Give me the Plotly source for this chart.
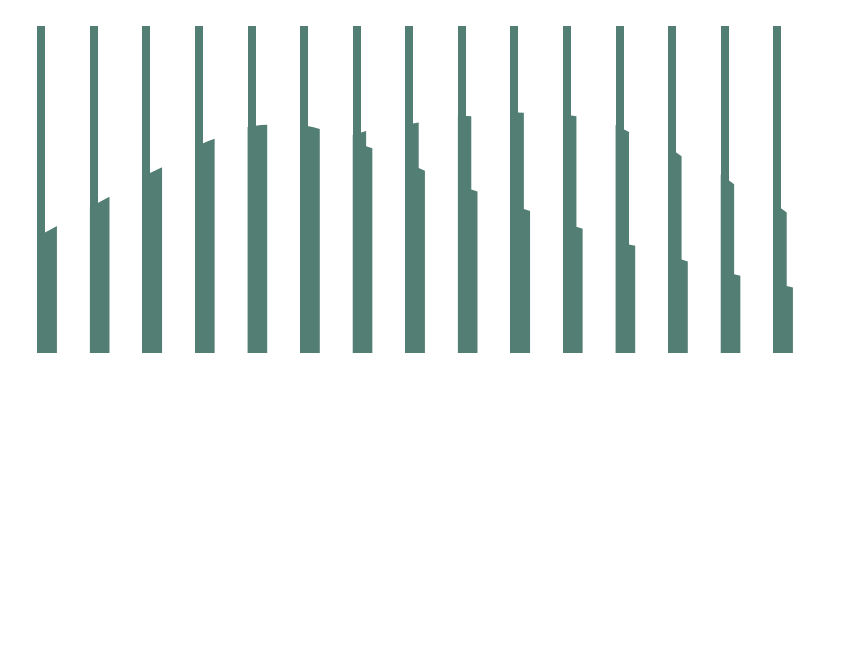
import plotly.graph_objects as go

# one group per category, 15 in all
groups = list(range(15))

# full-height strip on the left of every group
strip_values = [100] * 15

# area tops: left edge, end of first step, after the drop, right edge
top_left = [35.6, 44.6, 54.0, 63.1, 69.1, 69.9, 66.7, 69.8, 72.6, 73.6, 73.0, 69.7, 63.1, 54.6, 46.0]
step_end = [37.8, 46.8, 55.9, 64.8, 69.7, 69.0, 67.9, 70.5, 72.4, 73.5, 72.4, 67.6, 60.2, 51.6, 43.0]
step_drop = [37.8, 46.8, 55.9, 64.8, 69.7, 69.0, 63.2, 56.6, 50.0, 44.0, 38.6, 33.2, 28.6, 24.1, 20.5]
top_right = [38.8, 47.8, 56.8, 65.5, 69.8, 68.5, 62.6, 55.7, 49.4, 43.4, 38.0, 32.8, 28.0, 23.6, 20.0]

color = '#527e73'
strip_w = 0.152   # width of the thin strip, in category units
step_w = 0.255    # where the drop sits
area_w = 0.373    # full width of the area

# build one polygon per group, split with None so toself closes each
xs, ys = [], []
for g, a, b, c, d in zip(groups, top_left, step_end, step_drop, top_right):
    xs += [g, g, g + step_w, g + step_w, g + area_w, g + area_w, g, None]
    ys += [0, a, b, c, d, 0, 0, None]

fig = go.Figure()
fig.add_trace(go.Scatter(
    x=xs, y=ys,
    mode='lines',
    fill='toself',
    fillcolor=color,
    line=dict(width=0, color=color),
    hoverinfo='skip',
))
fig.add_trace(go.Bar(
    x=groups, y=strip_values,
    width=strip_w, offset=0,
    marker=dict(color=color, line=dict(width=0)),
))

fig.update_layout(
    width=845, height=667,
    margin=dict(l=0, r=0, t=18, b=322),
    paper_bgcolor='white', plot_bgcolor='white',
    showlegend=False,
    bargap=0,
)
fig.update_xaxes(range=[-0.5574, 15.516], visible=False)
fig.update_yaxes(range=[0, 100], visible=False)

fig.write_html("out.html")
